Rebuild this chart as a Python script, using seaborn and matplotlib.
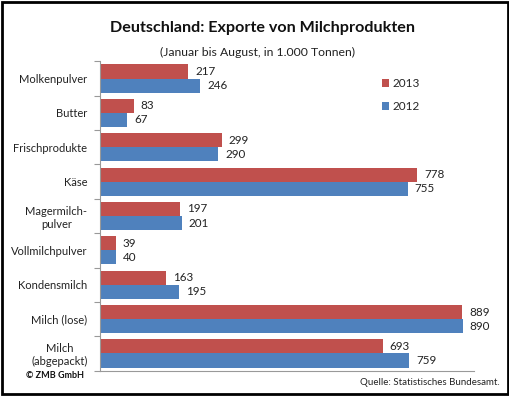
import seaborn as sns
import matplotlib.pyplot as plt
import pandas as pd
import numpy as np

# data (Januar bis August, in 1.000 Tonnen)
produkte = ['Molkenpulver', 'Butter', 'Frischprodukte', 'Käse', 'Magermilch-\npulver',
            'Vollmilchpulver', 'Kondensmilch', 'Milch (lose)', 'Milch\n(abgepackt)']
werte_2013 = [217, 83, 299, 778, 197, 39, 163, 889, 693]
werte_2012 = [246, 67, 290, 755, 201, 40, 195, 890, 759]
jahre = ['2013', '2012']
farben = ['#C0504D', '#4F81BD']

df = pd.DataFrame({
    'Produkt': produkte * 2,
    'Wert': werte_2013 + werte_2012,
    'Jahr': ['2013'] * len(produkte) + ['2012'] * len(produkte),
})

sns.set_style('white')
plt.rcParams['font.family'] = ['Lato', 'DejaVu Sans']

fig = plt.figure(figsize=(5.1, 3.96), dpi=100)
ax = fig.add_axes([0.196, 0.064, 0.734, 0.781])

sns.barplot(data=df, y='Produkt', x='Wert', hue='Jahr', hue_order=jahre,
            palette=farben, orient='h', width=0.82, saturation=1,
            edgecolor='none', ax=ax)

# value labels
for cont in ax.containers:
    ax.bar_label(cont, labels=[f'{int(v)}' for v in cont.datavalues],
                 padding=5, fontsize=8.4, color='#222222')

ax.set_xlim(0, 918)
ax.set_ylim(len(produkte) - 0.5, -0.5)
ax.set_xlabel('')
ax.set_ylabel('')
ax.set_xticks([])

# category boundary ticks
ax.set_yticks(np.arange(len(produkte)))
ax.set_yticklabels(produkte, fontsize=8.0, multialignment='center', color='#222222')
ax.set_yticks(np.arange(-0.5, len(produkte)), minor=True)
ax.tick_params(axis='y', which='major', length=0, pad=9)
ax.tick_params(axis='y', which='minor', length=4, width=0.8, color='#999999', left=True)

for side in ['top', 'right']:
    ax.spines[side].set_visible(False)
for side in ['left', 'bottom']:
    ax.spines[side].set_color('#999999')
    ax.spines[side].set_linewidth(0.8)

leg = ax.legend(loc='upper left', bbox_to_anchor=(0.725, 0.98), frameon=False,
                fontsize=8.5, handlelength=0.6, handleheight=0.6, handletextpad=0.3,
                labelspacing=1.0)

fig.text(0.514, 0.93, 'Deutschland: Exporte von Milchprodukten', ha='center', va='center',
         fontsize=11.6, fontweight='bold', color='#111111')
fig.text(0.504, 0.868, '(Januar bis August, in 1.000 Tonnen)', ha='center', va='center',
         fontsize=8.8, color='#222222')
fig.text(0.05, 0.053, '© ZMB GmbH', ha='left', va='center', fontsize=6.5,
         fontweight='bold', color='#111111')
fig.text(0.98, 0.033, 'Quelle: Statistisches Bundesamt.', ha='right', va='center',
         fontsize=7, color='#222222')

# outer frame
fig.patches.append(plt.Rectangle((0.003, 0.004), 0.994, 0.992, transform=fig.transFigure,
                                 fill=False, edgecolor='black', linewidth=2))

plt.savefig('out.png', dpi=100)
